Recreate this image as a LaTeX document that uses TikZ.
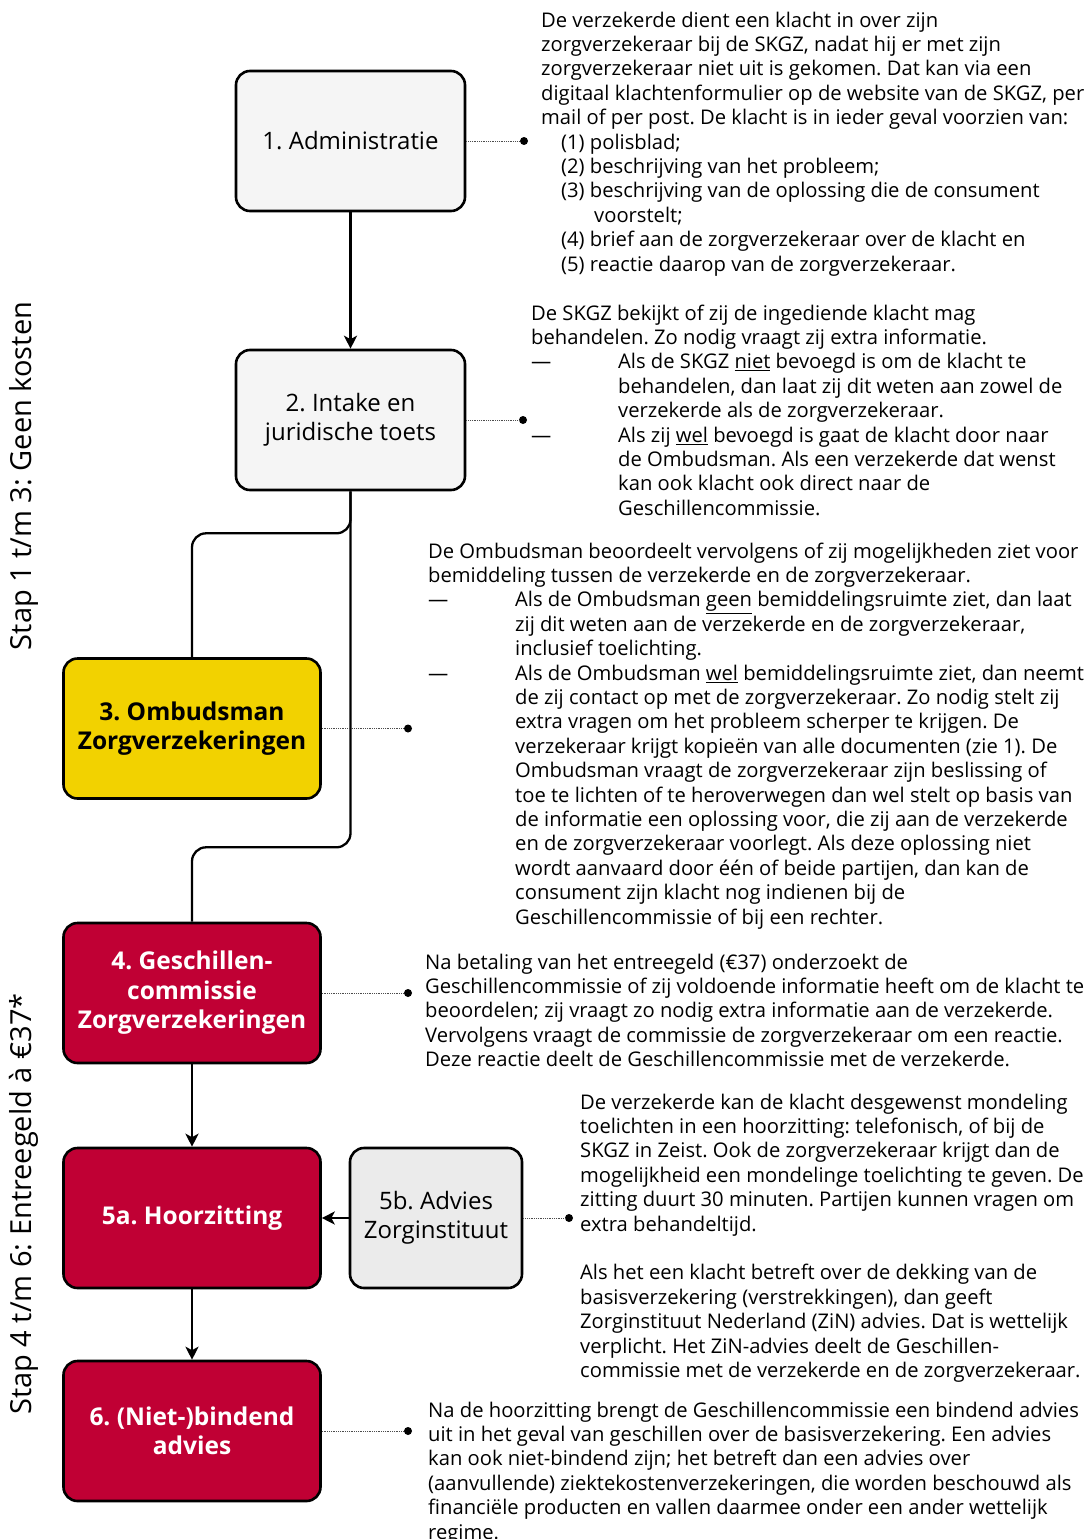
\documentclass[tikz,border=0pt]{standalone}
\usepackage{fontspec}
\setmainfont{Open Sans}
\usetikzlibrary{arrows.meta}
\definecolor{boxgray}{HTML}{F5F5F5}
\definecolor{advgray}{HTML}{EBEBEB}
\definecolor{ombyellow}{HTML}{F2D200}
\definecolor{skgzred}{HTML}{C00034}
\newcommand{\bodyfont}{\fontsize{20.2}{24.4}\selectfont}
\newcommand{\dashitem}{\makebox[87pt][l]{\textemdash}}
\newcommand{\hang}{\hspace*{87pt}}
\frenchspacing

\begin{document}
\begin{tikzpicture}[x=1pt,y=-1pt,
        stepbox/.style={draw, line width=2.6pt, rounded corners=14pt,
            minimum width=229pt, minimum height=140pt, align=center,
            font=\fontsize{24}{29}\selectfont},
        graybox/.style={stepbox, fill=boxgray},
        redbox/.style={stepbox, fill=skgzred, text=white, minimum width=257pt,
            font=\fontsize{24.5}{29.5}\selectfont\bfseries},
        flow/.style={line width=2.3pt, -{Stealth[length=13pt,width=13pt,inset=3.5pt]}},
        link/.style={line width=2.3pt, rounded corners=14pt},
        leader/.style={densely dotted, line width=0.8pt, black!70},
        dot/.style={circle, fill=black, inner sep=0pt, minimum size=8pt},
        info/.style={anchor=north west, inner sep=0pt, align=left, font=\bodyfont},
        side/.style={rotate=90, inner sep=0pt, font=\fontsize{29}{34}\selectfont}]
    \useasboundingbox (0,0) rectangle (1091,1539);

    % side labels
    \node[side] (free) at (24,476) {Stap 1 t/m 3: Geen kosten};
    \node[side] (fee) at (24,1204) {Stap 4 t/m 6: Entreegeld à €37*};

    % steps
    \node[graybox] (adm) at (350.5,141) {1. Administratie};
    \node[graybox] (intake) at (350.5,420) {2. Intake en\\juridische toets};
    \node[stepbox, fill=ombyellow, minimum width=257pt, font=\fontsize{24.5}{29.5}\selectfont\bfseries]
        (omb) at (192,728.5) {3. Ombudsman\\Zorgverzekeringen};
    \node[redbox] (gc) at (192,993) {4. Geschillen-\\commissie\\Zorgverzekeringen};
    \node[redbox] (hoor) at (192,1218) {5a. Hoorzitting};
    \node[stepbox, fill=advgray, minimum width=172pt] (zin) at (436,1218) {5b. Advies\\Zorginstituut};
    \node[redbox] (bind) at (192,1431) {6. (Niet-)bindend\\advies};

    % connections between the steps
    \draw[flow] (adm) -- (intake);
    \draw[link] (intake.south) -- ++(0,42) -| (omb.north);
    \draw[link] (intake.south) -- ++(0,356) -| (gc.north);
    \draw[flow] (gc) -- (hoor);
    \draw[flow] (zin) -- (hoor);
    \draw[flow] (hoor) -- (bind);

    % leaders to the explanations
    \foreach \n/\x/\y in {d1/524/141, d2/523/420, d3/408/728.5, d4/408/993, d5/569/1218, d6/408/1431}
        \node[dot] (\n) at (\x,\y) {};
    \foreach \b/\n in {adm/d1, intake/d2, omb/d3, gc/d4, zin/d5, bind/d6}
        \draw[leader] (\b.east) -- (\n);

    % explanations
    \node[info] (txtadm) at (541,11.5) {De verzekerde dient een klacht in over zijn\\
        zorgverzekeraar bij de SKGZ, nadat hij er met zijn\\
        zorgverzekeraar niet uit is gekomen. Dat kan via een\\
        digitaal klachtenformulier op de website van de SKGZ, per\\
        mail of per post. De klacht is in ieder geval voorzien van:\\
        \hspace*{20pt}(1) polisblad;\\
        \hspace*{20pt}(2) beschrijving van het probleem;\\
        \hspace*{20pt}(3) beschrijving van de oplossing die de consument\\
        \hspace*{53pt}voorstelt;\\
        \hspace*{20pt}(4) brief aan de zorgverzekeraar over de klacht en\\
        \hspace*{20pt}(5) reactie daarop van de zorgverzekeraar.};
    \node[info] (txtintake) at (531,304.5) {De SKGZ bekijkt of zij de ingediende klacht mag\\
        behandelen. Zo nodig vraagt zij extra informatie.\\
        \dashitem Als de SKGZ \underline{niet} bevoegd is om de klacht te\\
        \hang behandelen, dan laat zij dit weten aan zowel de\\
        \hang verzekerde als de zorgverzekeraar.\\
        \dashitem Als zij \underline{wel} bevoegd is gaat de klacht door naar\\
        \hang de Ombudsman. Als een verzekerde dat wenst\\
        \hang kan ook klacht ook direct naar de\\
        \hang Geschillencommissie.};
    \node[info] (txtomb) at (428,542.5) {De Ombudsman beoordeelt vervolgens of zij mogelijkheden ziet voor\\
        bemiddeling tussen de verzekerde en de zorgverzekeraar.\\
        \dashitem Als de Ombudsman \underline{geen} bemiddelingsruimte ziet, dan laat\\
        \hang zij dit weten aan de verzekerde en de zorgverzekeraar,\\
        \hang inclusief toelichting.\\
        \dashitem Als de Ombudsman \underline{wel} bemiddelingsruimte ziet, dan neemt\\
        \hang de zij contact op met de zorgverzekeraar. Zo nodig stelt zij\\
        \hang extra vragen om het probleem scherper te krijgen. De\\
        \hang verzekeraar krijgt kopieën van alle documenten (zie 1). De\\
        \hang Ombudsman vraagt de zorgverzekeraar zijn beslissing of\\
        \hang toe te lichten of te heroverwegen dan wel stelt op basis van\\
        \hang de informatie een oplossing voor, die zij aan de verzekerde\\
        \hang en de zorgverzekeraar voorlegt. Als deze oplossing niet\\
        \hang wordt aanvaard door één of beide partijen, dan kan de\\
        \hang consument zijn klacht nog indienen bij de\\
        \hang Geschillencommissie of bij een rechter.};
    \node[info] (txtgc) at (425,953.5) {Na betaling van het entreegeld (€37) onderzoekt de\\
        Geschillencommissie of zij voldoende informatie heeft om de klacht te\\
        beoordelen; zij vraagt zo nodig extra informatie aan de verzekerde.\\
        Vervolgens vraagt de commissie de zorgverzekeraar om een reactie.\\
        Deze reactie deelt de Geschillencommissie met de verzekerde.};
    \node[info] (txtzin) at (580,1093.5) {De verzekerde kan de klacht desgewenst mondeling\\
        toelichten in een hoorzitting: telefonisch, of bij de\\
        SKGZ in Zeist. Ook de zorgverzekeraar krijgt dan de\\
        mogelijkheid een mondelinge toelichting te geven. De\\
        zitting duurt 30 minuten. Partijen kunnen vragen om\\
        extra behandeltijd.\\[24.4pt]
        Als het een klacht betreft over de dekking van de\\
        basisverzekering (verstrekkingen), dan geeft\\
        Zorginstituut Nederland (ZiN) advies. Dat is wettelijk\\
        verplicht. Het ZiN-advies deelt de Geschillen-\\
        commissie met de verzekerde en de zorgverzekeraar.};
    \node[info] (txtbind) at (428,1401.5) {Na de hoorzitting brengt de Geschillencommissie een bindend advies\\
        uit in het geval van geschillen over de basisverzekering. Een advies\\
        kan ook niet-bindend zijn; het betreft dan een advies over\\
        (aanvullende) ziektekostenverzekeringen, die worden beschouwd als\\
        financiële producten en vallen daarmee onder een ander wettelijk\\
        regime.};
\end{tikzpicture}
\end{document}
